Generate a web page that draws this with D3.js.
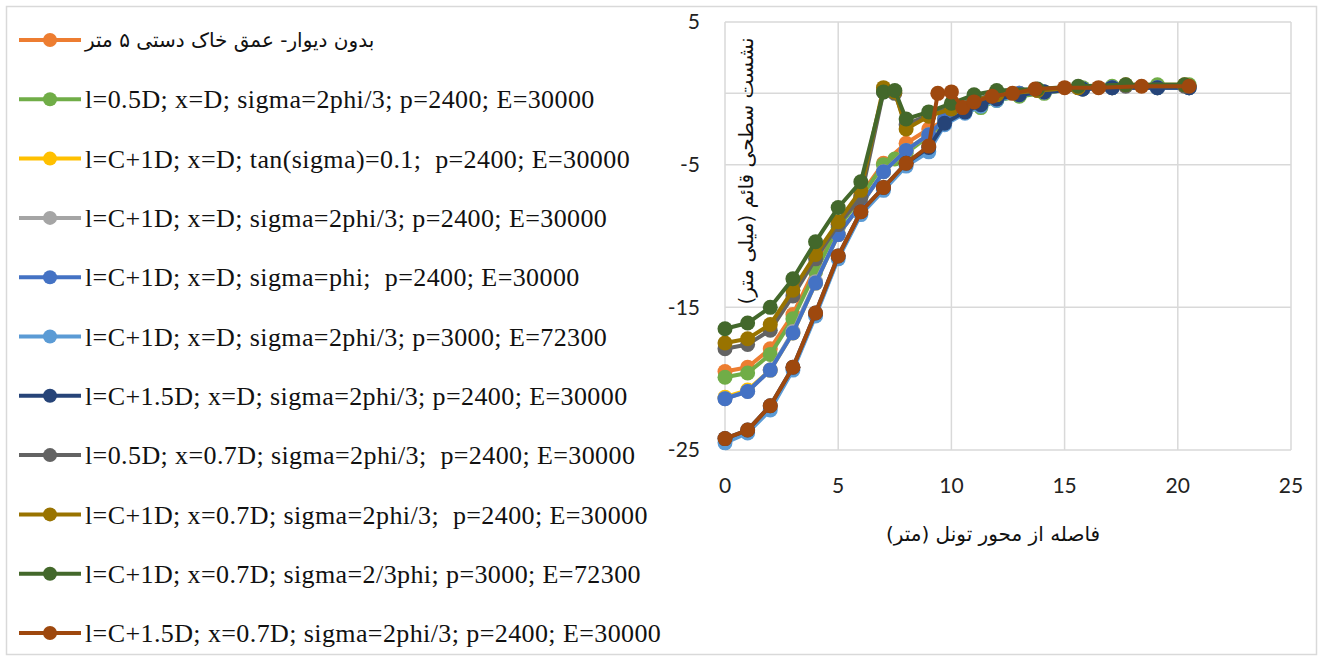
<!DOCTYPE html>
<html lang="fa">
<head>
    <meta charset="UTF-8">
    <title>Surface settlement</title>
    <style>
        body { margin: 0; background: #fff; }
        svg { display: block; }
        .tick-label { font-family: Lato, 'Open Sans', sans-serif; font-size: 21px; fill: #222; }
        .legend-label { font-family: 'Liberation Serif', serif; font-size: 26px; letter-spacing: 0.4px; fill: #111; white-space: pre; }
        .fa { font-family: 'DejaVu Sans', sans-serif; fill: #111; }
    </style>
</head>
<body>
<svg id="chart"></svg>
<script src="https://d3js.org/d3.v7.min.js"></script>
<script>
    // Data: [distance from tunnel axis (m), vertical settlement (mm)]
    const noWall     = [[0,-19.5],[1,-19.2],[2,-17.9],[3,-15.5],[4,-12.2],[5,-9.2],[6,-7.1],[7,-4.9],[8,-3.5],[9,-2.5],[9.7,-1.9],[10.6,-1.2],[11.3,-0.8],[12,-0.4],[13,-0.1],[14.1,0.1],[15.8,0.3],[17.1,0.4],[19.1,0.5],[20.5,0.5]];
    const l05D       = [[0,-19.9],[1,-19.6],[2,-18.3],[3,-15.8],[4,-12.5],[5,-9.4],[6,-7.3],[7,-5.0],[7.5,-4.6],[8,-4.2],[9,-3.0],[9.7,-2.0],[10.6,-1.3],[11.3,-1.0],[12,-0.5],[13,-0.2],[14.1,0.0],[15.8,0.4],[17.1,0.5],[19.1,0.6],[20.5,0.6]];
    const tanSigma   = [[0,-21.3],[1,-20.8],[2,-19.4],[3,-16.8],[4,-13.3],[5,-9.9],[6,-7.8],[7,-5.5],[8,-4.0],[9,-2.9],[9.7,-1.8],[10.6,-1.1],[11.3,-0.7],[12,-0.3],[13,0],[14.1,0.1],[15.8,0.3],[17.1,0.4],[19.1,0.4],[20.5,0.4]];
    const c1D        = [[0,-21.4],[1,-20.9],[2,-19.4],[3,-16.7],[4,-13.2],[5,-9.9],[6,-7.8],[7,-5.5],[8,-4.0],[9,-2.9],[9.7,-1.8],[10.6,-1.1],[11.3,-0.7],[12,-0.3],[13,0],[14.1,0.1],[15.8,0.3],[17.1,0.4],[19.1,0.4],[20.5,0.4]];
    const sigmaPhi   = [[0,-21.4],[1,-20.9],[2,-19.4],[3,-16.8],[4,-13.3],[5,-9.9],[6,-7.8],[7,-5.5],[8,-4.0],[9,-2.9],[9.7,-1.8],[10.6,-1.1],[11.3,-0.7],[12,-0.3],[13,0],[14.1,0.1],[15.8,0.3],[17.1,0.4],[19.1,0.4],[20.5,0.4]];
    const c1DStiff   = [[0,-24.5],[1,-23.8],[2,-22.2],[3,-19.4],[4,-15.6],[5,-11.6],[6,-8.5],[7,-6.8],[8,-5.1],[9,-4.1],[9.7,-2.2],[10.6,-1.4],[11.3,-0.9],[12,-0.5],[13,-0.1],[14.1,0.1],[15.8,0.3],[17.1,0.4],[19.1,0.4],[20.5,0.4]];
    const c15D       = [[0,-24.2],[1,-23.6],[2,-21.9],[3,-19.2],[4,-15.4],[5,-11.4],[6,-8.3],[7,-6.6],[8,-4.9],[9,-3.8],[9.7,-2.1],[10.6,-1.3],[11.3,-0.8],[12,-0.4],[13,-0.1],[14.1,0.1],[15.8,0.3],[17.1,0.4],[19.1,0.4],[20.5,0.4]];
    const l05D07     = [[0,-17.9],[1,-17.6],[2,-16.6],[3,-14.2],[4,-11.6],[5,-9.2],[6,-7.3],[7,0.1],[7.5,0],[8,-2.2],[9,-1.5],[10,-1.0],[11,-0.4],[12,-0.1],[13.8,0.2],[15.6,0.4],[17.7,0.5],[20.3,0.5]];
    const c1D07      = [[0,-17.5],[1,-17.2],[2,-16.2],[3,-13.8],[4,-11.3],[5,-9.0],[6,-6.8],[7,0.4],[7.5,0.1],[8,-2.5],[9,-1.6],[10,-1.1],[11,-0.5],[12,-0.1],[13.8,0.2],[15.6,0.4],[17.7,0.6],[20.3,0.6]];
    const c1D07Stiff = [[0,-16.5],[1,-16.1],[2,-15.0],[3,-13.0],[4,-10.4],[5,-8.0],[6,-6.2],[7,0.1],[7.5,0.2],[8,-1.8],[9,-1.3],[10,-0.7],[11,-0.1],[12,0.2],[13.8,0.3],[15.6,0.5],[17.7,0.6],[20.3,0.6]];
    const c15D07     = [[0,-24.2],[1,-23.6],[2,-21.9],[3,-19.2],[4,-15.4],[5,-11.4],[6,-8.3],[7,-6.6],[8,-4.9],[9,-3.7],[9.4,0],[10,0.1],[10.5,-1.0],[11,-0.6],[11.8,-0.2],[12.7,0],[13.7,0.3],[15,0.4],[16.5,0.4],[18.4,0.5],[20.5,0.5]];

    const seriesData = [noWall, l05D, tanSigma, c1D, sigmaPhi, c1DStiff, c15D, l05D07, c1D07, c1D07Stiff, c15D07];
    const seriesNames = [
        'بدون دیوار- عمق خاک دستی ۵ متر',
        'l=0.5D; x=D; sigma=2phi/3; p=2400; E=30000',
        'l=C+1D; x=D; tan(sigma)=0.1;  p=2400; E=30000',
        'l=C+1D; x=D; sigma=2phi/3; p=2400; E=30000',
        'l=C+1D; x=D; sigma=phi;  p=2400; E=30000',
        'l=C+1D; x=D; sigma=2phi/3; p=3000; E=72300',
        'l=C+1.5D; x=D; sigma=2phi/3; p=2400; E=30000',
        'l=0.5D; x=0.7D; sigma=2phi/3;  p=2400; E=30000',
        'l=C+1D; x=0.7D; sigma=2phi/3;  p=2400; E=30000',
        'l=C+1D; x=0.7D; sigma=2/3phi; p=3000; E=72300',
        'l=C+1.5D; x=0.7D; sigma=2phi/3; p=2400; E=30000'
    ];
    const colors = ['#ED7D31', '#70AD47', '#FFC000', '#A5A5A5', '#4472C4', '#5B9BD5',
                    '#264478', '#636363', '#997300', '#43682B', '#9E480E'];
    const xTicks = [0, 5, 10, 15, 20, 25];
    const yTicks = [5, -5, -15, -25];
    const xTitle = 'فاصله از محور تونل (متر)';
    const yTitle = 'نشست سطحی قائم (میلی متر)';

    const width = 1323, height = 661;
    const plot = { left: 725, right: 1291, top: 22, bottom: 450 };

    const svg = d3.select('#chart').attr('width', width).attr('height', height);

    // outer frame
    svg.append('rect')
        .attr('x', 6.5).attr('y', 6.5)
        .attr('width', width - 13).attr('height', height - 13)
        .attr('fill', '#fff').attr('stroke', '#D9D9D9').attr('stroke-width', 1.5);

    const x = d3.scaleLinear().domain([0, 25]).range([plot.left, plot.right]);
    const y = d3.scaleLinear().domain([-25, 5]).range([plot.bottom, plot.top]);

    // gridlines
    svg.append('g')
        .selectAll('line')
        .data(xTicks)
        .join('line')
        .attr('x1', d => x(d)).attr('x2', d => x(d))
        .attr('y1', plot.top).attr('y2', plot.bottom)
        .attr('stroke', '#D9D9D9').attr('stroke-width', 1.5);

    svg.append('g')
        .selectAll('line')
        .data(yTicks.concat([0]))
        .join('line')
        .attr('x1', plot.left).attr('x2', plot.right)
        .attr('y1', d => y(d)).attr('y2', d => y(d))
        .attr('stroke', '#D9D9D9').attr('stroke-width', 1.5);

    // tick labels
    svg.append('g')
        .selectAll('text')
        .data(yTicks)
        .join('text')
        .attr('class', 'tick-label')
        .attr('x', plot.left - 25)
        .attr('y', d => y(d))
        .attr('dy', '0.35em')
        .attr('text-anchor', 'end')
        .text(d => d);

    svg.append('g')
        .selectAll('text')
        .data(xTicks)
        .join('text')
        .attr('class', 'tick-label')
        .attr('x', d => x(d))
        .attr('y', 486)
        .attr('dy', '0.35em')
        .attr('text-anchor', 'middle')
        .text(d => d);

    // axis titles
    svg.append('text')
        .attr('class', 'fa')
        .attr('direction', 'rtl')
        .attr('x', 993).attr('y', 534)
        .attr('dy', '0.35em')
        .attr('text-anchor', 'middle')
        .style('font-size', '20px')
        .text(xTitle);

    svg.append('text')
        .attr('class', 'fa')
        .attr('direction', 'rtl')
        .attr('transform', 'translate(746,171) rotate(-90)')
        .attr('dy', '0.35em')
        .attr('text-anchor', 'middle')
        .style('font-size', '20px')
        .text(yTitle);

    // series, drawn in legend order
    const line = d3.line().x(d => x(d[0])).y(d => y(d[1]));

    seriesData.forEach((pts, i) => {
        const g = svg.append('g');
        g.append('path')
            .datum(pts)
            .attr('d', line)
            .attr('fill', 'none')
            .attr('stroke', colors[i])
            .attr('stroke-width', 4)
            .attr('stroke-linejoin', 'round');
        g.selectAll('circle')
            .data(pts)
            .join('circle')
            .attr('cx', d => x(d[0]))
            .attr('cy', d => y(d[1]))
            .attr('r', 7.5)
            .attr('fill', colors[i]);
    });

    // legend
    const legend = svg.append('g');
    const rowY = i => 40 + i * 59.3;
    seriesNames.forEach((name, i) => {
        const ly = rowY(i);
        legend.append('line')
            .attr('x1', 19).attr('x2', 81)
            .attr('y1', ly).attr('y2', ly)
            .attr('stroke', colors[i]).attr('stroke-width', 4);
        legend.append('circle')
            .attr('cx', 50).attr('cy', ly).attr('r', 7)
            .attr('fill', colors[i]);
        const t = legend.append('text')
            .attr('x', 85).attr('y', ly)
            .attr('dy', '0.35em')
            .text(name);
        if (i === 0) {
            t.attr('class', 'fa').style('font-size', '20px');
        } else {
            t.attr('class', 'legend-label');
        }
    });
</script>
</body>
</html>
